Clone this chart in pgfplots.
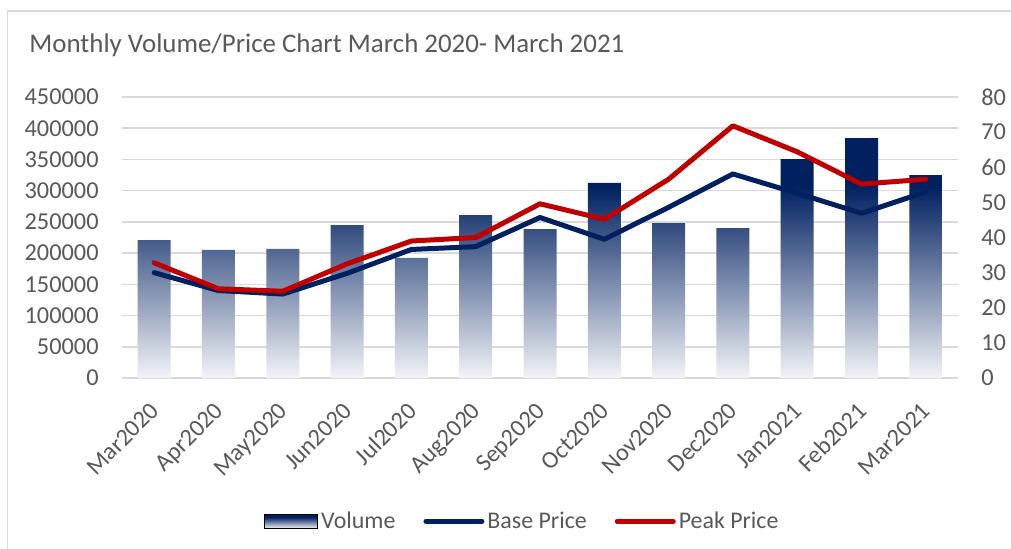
\documentclass[border=0pt]{standalone}
\usepackage{fontspec}
\setmainfont{Carlito}
\usepackage{pgfplots}
\pgfplotsset{compat=1.18}
\definecolor{navy}{RGB}{0,32,96}
\definecolor{peakred}{RGB}{192,0,0}
\definecolor{txtgray}{RGB}{89,89,89}
\definecolor{gridgray}{RGB}{217,217,217}
\definecolor{bordergray}{RGB}{217,217,217}
\colorlet{barbot}{navy!5!white}
\pgfdeclareverticalshading{volshade}{100bp}{color(0bp)=(barbot); color(25bp)=(barbot); color(65bp)=(navy); color(100bp)=(navy)}
\pgfplotsset{lineleg/.style={legend image code/.code={\draw[##1] (0bp,0bp) -- (28bp,0bp);}},
  barleg/.style={legend image code/.code={\shade[shading=volshade] (0bp,-3.5bp) rectangle (26.5bp,3.5bp);}}}
\begin{document}
\begin{tikzpicture}
\useasboundingbox (-61bp,-85.5bp) rectangle (444.5bp,189bp);
\fill[white] (-61bp,-85.5bp) rectangle (444.5bp,189bp);
\draw[bordergray, line width=0.75bp] (-57.25bp,-85.5bp) -- (-57.25bp,183.5bp) -- (444.5bp,183.5bp);
\node[anchor=base west, inner sep=0pt, text=txtgray, font=\fontsize{13.5}{15}\selectfont] at (-46.5bp,162.5bp) {Monthly Volume/Price Chart March 2020- March 2021};
\begin{axis}[
  at={(0,0)}, anchor=south west,
  scale only axis, width=418bp, height=140.5bp,
  xmin=-0.5, xmax=12.5, ymin=0, ymax=450000,
  ytick={0,50000,...,450000},
  xtick={0,...,12},
  xticklabels={Mar2020,Apr2020,May2020,Jun2020,Jul2020,Aug2020,Sep2020,Oct2020,Nov2020,Dec2020,Jan2021,Feb2021,Mar2021},
  scaled y ticks=false,
  /pgf/number format/assume math mode=true,
  yticklabel style={/pgf/number format/fixed, /pgf/number format/1000 sep={}, inner sep=0pt, xshift=-11.5bp, anchor=east},
  xticklabel style={xshift=-2.7bp, yshift=-11.3bp, rotate=45, anchor=north east, inner sep=0pt},
  tick label style={text=txtgray, font=\fontsize{12.2}{14}\selectfont},
  axis line style={draw=none},
  major tick length=0pt,
  ymajorgrids, grid style={gridgray, line width=0.75bp},
]
\addplot[ybar, bar width=16.5bp, draw=none, shading=volshade] coordinates {
(0,221000) (1,205000) (2,206600) (3,245000) (4,192200) (5,261000) (6,238600)
(7,312300) (8,248200) (9,240200) (10,350700) (11,384300) (12,325000)};
\end{axis}
\begin{axis}[
  at={(0,0)}, anchor=south west,
  scale only axis, width=418bp, height=140.5bp,
  xmin=-0.5, xmax=12.5, ymin=0, ymax=80,
  ytick={0,10,...,80},
  axis x line=none,
  axis y line*=right,
  /pgf/number format/assume math mode=true,
  yticklabel style={inner sep=0pt, xshift=11.5bp, anchor=west, text=txtgray, font=\fontsize{12.2}{14}\selectfont},
  axis line style={draw=none},
  major tick length=0pt,
  legend columns=3,
  legend style={at={(0.4796,-0.51)}, anchor=center, draw=none, fill=none,
    font=\fontsize{12}{14}\selectfont, text=txtgray,
    nodes={inner sep=1.5bp},
    /tikz/every even column/.append style={column sep=12.5bp}},
]
\addlegendimage{barleg}
\addlegendentry{Volume}
\addplot[navy, line width=2.5bp, line join=round, line cap=round, lineleg] coordinates {
(0,30.0) (1,24.9) (2,23.9) (3,29.8) (4,36.6) (5,37.4) (6,45.7)
(7,39.5) (8,48.6) (9,58.1) (10,52.6) (11,46.9) (12,53.0)};
\addlegendentry{Base Price}
\addplot[peakred, line width=2.5bp, line join=round, line cap=round, lineleg] coordinates {
(0,32.8) (1,25.4) (2,24.7) (3,32.5) (4,39.0) (5,40.0) (6,49.6)
(7,45.2) (8,56.6) (9,71.8) (10,64.4) (11,55.2) (12,56.6)};
\addlegendentry{Peak Price}
\end{axis}
\end{tikzpicture}
\end{document}
